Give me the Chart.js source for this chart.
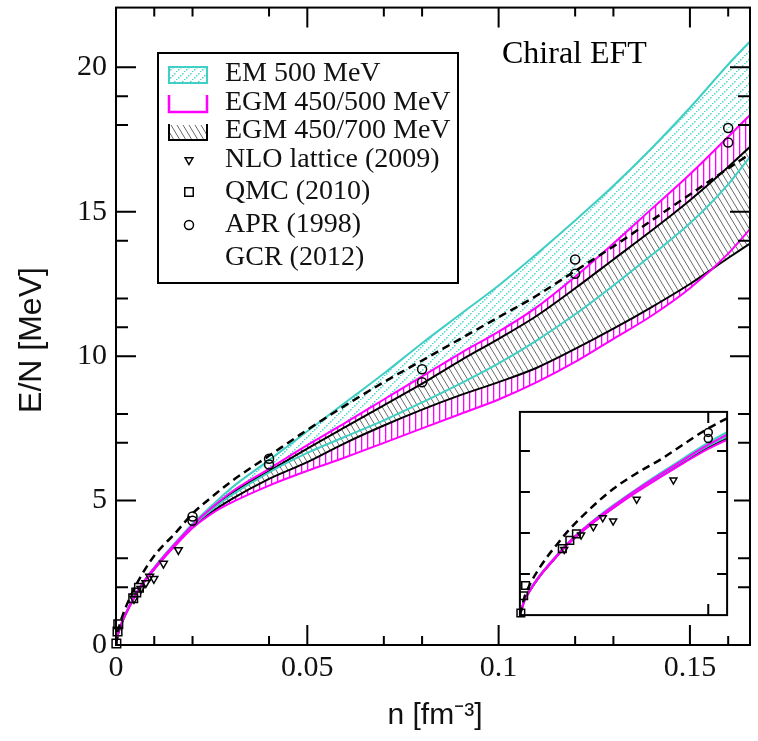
<!DOCTYPE html>
<html>
<head>
<meta charset="utf-8">
<title>Neutron matter E/N</title>
<script src="https://cdn.jsdelivr.net/npm/chart.js@4.4.1/dist/chart.umd.min.js"></script>
<style>
  html, body { margin: 0; padding: 0; background: #fff; }
  #wrap { position: relative; width: 758px; height: 741px; }
  #main { position: absolute; left: 0; top: 0; }
  #inset { position: absolute; left: 513px; top: 405px; }
</style>
</head>
<body>
<div id="wrap">
  <canvas id="main" width="758" height="741"></canvas>
  <canvas id="inset" width="221" height="217"></canvas>
</div>
<script>
// density grid (fm^-3) shared by all band edges
const density = [0, 0.0005, 0.001, 0.002, 0.003, 0.004, 0.005, 0.0075, 0.01, 0.0125, 0.015, 0.0175, 0.02, 0.025, 0.03,
                 0.04, 0.05, 0.06, 0.07, 0.08, 0.09, 0.10, 0.11, 0.12, 0.13, 0.14, 0.15, 0.16, 0.1657];

// E/N (MeV) band edges
const em500Upper  = [0, 0.38, 0.60, 0.94, 1.22, 1.48, 1.74, 2.25, 2.69, 3.09, 3.47, 3.84, 4.20, 4.82, 5.42,
                     6.40, 7.40, 8.40, 9.40, 10.45, 11.45, 12.45, 13.55, 14.70, 15.90, 17.20, 18.60, 20.10, 20.90];
const em500Lower  = [0, 0.37, 0.58, 0.92, 1.20, 1.46, 1.72, 2.22, 2.65, 3.05, 3.42, 3.78, 4.12, 4.68, 5.17,
                     5.98, 6.65, 7.22, 7.78, 8.40, 9.05, 9.75, 10.55, 11.45, 12.45, 13.50, 14.60, 15.95, 16.90];
const egm500Upper = [0, 0.37, 0.58, 0.93, 1.21, 1.47, 1.73, 2.24, 2.67, 3.07, 3.44, 3.80, 4.15, 4.75, 5.28,
                     6.10, 6.92, 7.70, 8.50, 9.30, 10.10, 10.85, 11.70, 12.75, 13.90, 15.10, 16.30, 17.60, 18.35];
const egm500Lower = [0, 0.36, 0.57, 0.91, 1.19, 1.45, 1.70, 2.20, 2.62, 3.01, 3.37, 3.72, 4.05, 4.55, 4.92,
                     5.52, 6.03, 6.50, 7.00, 7.50, 8.00, 8.50, 9.10, 9.80, 10.60, 11.40, 12.35, 13.55, 14.40];
const egm700Upper = [0, 0.37, 0.58, 0.92, 1.20, 1.46, 1.72, 2.23, 2.66, 3.06, 3.43, 3.79, 4.13, 4.72, 5.24,
                     6.02, 6.80, 7.55, 8.30, 9.05, 9.85, 10.60, 11.40, 12.35, 13.35, 14.35, 15.40, 16.55, 17.25];
const egm700Lower = [0, 0.365, 0.575, 0.915, 1.195, 1.455, 1.71, 2.21, 2.63, 3.03, 3.39, 3.75, 4.08, 4.60, 5.03,
                     5.75, 6.33, 7.00, 7.60, 8.15, 8.65, 9.10, 9.60, 10.25, 10.95, 11.70, 12.50, 13.40, 13.90];
const gcr2012     = [0, 0.45, 0.72, 1.12, 1.45, 1.74, 2.02, 2.60, 3.09, 3.47, 3.80, 4.18, 4.55, 5.12, 5.65,
                     6.55, 7.45, 8.30, 9.10, 9.85, 10.60, 11.35, 12.10, 12.95, 13.80, 14.70, 15.60, 16.50, 17.00];

// calculations shown as markers
const nloN = [0.0047, 0.0065, 0.0078, 0.0088, 0.0099, 0.0124, 0.0163];
const nloE = [1.60, 1.95, 2.15, 2.37, 2.29, 2.82, 3.29];
const qmcN = [0.0001, 0.0004, 0.0006, 0.0045, 0.0053, 0.0060];
const qmcE = [0.05, 0.47, 0.72, 1.62, 1.82, 1.98];
const aprN = [0.02, 0.02, 0.04, 0.04, 0.08, 0.08, 0.12, 0.12, 0.16, 0.16];
const aprE = [4.45, 4.30, 6.45, 6.25, 9.55, 9.10, 13.35, 12.85, 17.90, 17.40];

// axes
const xMajorTicks = [0, 0.05, 0.1, 0.15];
const xTickLabels = ['0', '0.05', '0.1', '0.15'];
const xMinorTicks = [0.01, 0.02, 0.04, 0.07, 0.08, 0.12, 0.13, 0.16];
const yMajorTicks = [0, 5, 10, 15, 20];
const yTickLabels = ['0', '5', '10', '15', '20'];
const yMinorTicks = [2, 3, 7, 8, 11, 12, 14, 18, 19];
const insetXTicks = [0.02];
const insetYTicks = [1, 2, 3, 4];

const legendLabels = ['EM 500 MeV', 'EGM 450/500 MeV', 'EGM 450/700 MeV', 'NLO lattice (2009)', 'QMC (2010)', 'APR (1998)', 'GCR (2012)'];

const CYAN = '#3fcfc4';
const MAGENTA = '#ff00ff';
const SERIF = '"Liberation Serif", "Times New Roman", serif';
const SANS = '"Liberation Sans", Arial, sans-serif';

function makePattern(w, h, draw) {
    const c = document.createElement('canvas');
    c.width = w; c.height = h;
    const g = c.getContext('2d');
    g.fillStyle = '#fff';
    g.fillRect(0, 0, w, h);
    draw(g);
    return g.createPattern(c, 'repeat');
}

const patterns = {
    cyan: makePattern(8, 8, g => {
        g.fillStyle = '#4fd3c9';
        [[0, 7], [2, 5], [4, 3], [6, 1]].forEach(([x, y]) => g.fillRect(x, y, 1.5, 1.5));
    }),
    magenta: makePattern(6, 4, g => {
        g.fillStyle = MAGENTA;
        g.fillRect(1, 0, 1.3, 4);
    }),
    hatch: makePattern(6, 10, g => {
        g.strokeStyle = '#6a6a6a';
        g.lineWidth = 1;
        [-6, 0, 6].forEach(o => {
            g.beginPath();
            g.moveTo(o, 0);
            g.lineTo(o + 6, 10);
            g.stroke();
        });
    })
};

const pts = (xs, ys) => xs.map((x, i) => ({ x, y: ys[i] }));

function curve(values, extra) {
    return Object.assign({
        data: pts(density, values),
        borderWidth: 2,
        pointRadius: 0,
        fill: false,
        cubicInterpolationMode: 'monotone'
    }, extra);
}

// band fill: upper edge filled down to the next dataset, no outline
function band(upper, lower, pattern, order) {
    return [
        curve(upper, { borderWidth: 0, borderColor: 'rgba(0,0,0,0)', fill: '+1', backgroundColor: pattern, order }),
        curve(lower, { borderWidth: 0, borderColor: 'rgba(0,0,0,0)', order })
    ];
}

function markers(xs, ys, style, radius, rotation) {
    return {
        data: pts(xs, ys),
        showLine: false,
        pointStyle: style,
        pointRadius: radius,
        pointRotation: rotation || 0,
        pointBorderColor: '#000',
        pointBackgroundColor: 'rgba(255,255,255,0)',
        pointBorderWidth: 1.5,
        clip: false,
        order: -5
    };
}

function buildDatasets(r) {
    return [
        // fills: cyan at the back, hatched band in front
        ...band(egm700Upper, egm700Lower, patterns.hatch, 10),
        ...band(egm500Upper, egm500Lower, patterns.magenta, 11),
        ...band(em500Upper, em500Lower, patterns.cyan, 12),
        // band edges
        curve(egm700Upper, { borderColor: '#000', order: 3 }),
        curve(egm700Lower, { borderColor: '#000', order: 3 }),
        curve(em500Upper, { borderColor: CYAN, order: 2 }),
        curve(em500Lower, { borderColor: CYAN, order: 2 }),
        curve(egm500Upper, { borderColor: MAGENTA, order: 1 }),
        curve(egm500Lower, { borderColor: MAGENTA, order: 1 }),
        curve(gcr2012, { borderColor: '#000', borderWidth: 2.5, borderDash: [8, 5], order: -1 }),
        markers(nloN, nloE, 'triangle', r, 180),
        markers(qmcN, qmcE, 'rect', r * 1.35),
        markers(aprN, aprE, 'circle', r)
    ];
}

function drawTicks(ctx, a, xs, ys, xVals, xLen, yVals, yLen) {
    ctx.beginPath();
    xVals.forEach(v => {
        const px = xs.getPixelForValue(v);
        ctx.moveTo(px, a.bottom); ctx.lineTo(px, a.bottom - xLen);
        ctx.moveTo(px, a.top); ctx.lineTo(px, a.top + xLen);
    });
    yVals.forEach(v => {
        const py = ys.getPixelForValue(v);
        ctx.moveTo(a.left, py); ctx.lineTo(a.left + yLen, py);
        ctx.moveTo(a.right, py); ctx.lineTo(a.right - yLen, py);
    });
    ctx.stroke();
}

function drawLegend(ctx) {
    ctx.save();
    ctx.fillStyle = '#fff';
    ctx.fillRect(158, 53, 300, 230);
    ctx.strokeStyle = '#000';
    ctx.lineWidth = 2;
    ctx.strokeRect(158, 53, 300, 230);

    const rows = [74, 103, 131, 160, 192, 225, 258];
    // band swatches
    ctx.fillStyle = patterns.cyan;
    ctx.fillRect(169, 67, 38, 16);
    ctx.strokeStyle = CYAN;
    ctx.strokeRect(169, 67, 38, 16);

    ctx.strokeStyle = MAGENTA;
    ctx.lineWidth = 2.5;
    ctx.beginPath();
    ctx.moveTo(169, 95); ctx.lineTo(169, 112); ctx.lineTo(207, 112); ctx.lineTo(207, 95);
    ctx.stroke();

    ctx.fillStyle = patterns.hatch;
    ctx.fillRect(169, 125, 38, 15);
    ctx.strokeStyle = '#000';
    ctx.lineWidth = 2;
    ctx.beginPath();
    ctx.moveTo(169, 124); ctx.lineTo(169, 140); ctx.lineTo(207, 140); ctx.lineTo(207, 124);
    ctx.stroke();

    // marker swatches, hollow
    ctx.lineWidth = 1.5;
    ctx.fillStyle = '#fff';
    const opts = { pointStyle: 'triangle', rotation: 180, radius: 4.5, borderWidth: 1.5 };
    Chart.helpers.drawPoint(ctx, opts, 189, rows[3]);
    Chart.helpers.drawPoint(ctx, Object.assign({}, opts, { pointStyle: 'rect', rotation: 0, radius: 6 }), 189, rows[4]);
    Chart.helpers.drawPoint(ctx, Object.assign({}, opts, { pointStyle: 'circle', rotation: 0 }), 189, rows[5]);

    ctx.fillStyle = '#111';
    ctx.font = '28px ' + SERIF;
    ctx.textBaseline = 'middle';
    ctx.textAlign = 'left';
    legendLabels.forEach((t, i) => ctx.fillText(t, 225, rows[i]));
    ctx.restore();
}

const mainDecor = {
    id: 'mainDecor',
    beforeDraw(chart) {
        const { ctx, width, height } = chart;
        ctx.save();
        ctx.fillStyle = '#fff';
        ctx.fillRect(0, 0, width, height);
        ctx.restore();
    },
    afterDraw(chart) {
        const { ctx, chartArea: a, scales: { x, y } } = chart;
        ctx.save();
        ctx.strokeStyle = '#000';
        ctx.lineWidth = 2;
        ctx.strokeRect(a.left, a.top, a.right - a.left, a.bottom - a.top);
        drawTicks(ctx, a, x, y, xMajorTicks.slice(1), 20, yMajorTicks.slice(1), 20);
        drawTicks(ctx, a, x, y, xMinorTicks, 9, yMinorTicks, 12);

        ctx.fillStyle = '#111';
        ctx.textAlign = 'center';
        ctx.textBaseline = 'middle';
        ctx.font = '30px ' + SANS;
        ctx.fillText('n [fm\u207B\u00B3]', 435, 716);
        ctx.save();
        ctx.translate(32, 340);
        ctx.rotate(-Math.PI / 2);
        ctx.font = '32px ' + SANS;
        ctx.fillText('E/N [MeV]', 0, 0);
        ctx.restore();

        ctx.fillStyle = '#000';
        ctx.textAlign = 'left';
        ctx.textBaseline = 'alphabetic';
        ctx.font = '32px ' + SERIF;
        ctx.fillText('Chiral EFT', 502, 63);
        ctx.restore();

        drawLegend(ctx);
    }
};

const noPad = s => { s.paddingLeft = 0; s.paddingRight = 0; s.paddingTop = 0; s.paddingBottom = 0; };

new Chart(document.getElementById('main'), {
    type: 'line',
    data: { datasets: buildDatasets(4.5) },
    options: {
        responsive: false,
        animation: false,
        devicePixelRatio: 1,
        events: [],
        layout: { padding: { left: 0, top: 7, right: 8, bottom: 0 } },
        plugins: { legend: { display: false }, tooltip: { enabled: false } },
        scales: {
            x: {
                type: 'linear', min: 0, max: 0.1657,
                grid: { display: false, drawTicks: false },
                border: { display: false },
                afterBuildTicks: s => { s.ticks = xMajorTicks.map(v => ({ value: v })); },
                afterFit: s => { s.height = 96; noPad(s); },
                ticks: {
                    autoSkip: false, maxRotation: 0, padding: 5, color: '#111',
                    font: { family: SERIF, size: 30 },
                    callback: (v, i) => xTickLabels[i]
                }
            },
            y: {
                type: 'linear', min: 0, max: 22.07,
                grid: { display: false, drawTicks: false },
                border: { display: false },
                afterBuildTicks: s => { s.ticks = yMajorTicks.map(v => ({ value: v })); },
                afterFit: s => { s.width = 116; noPad(s); },
                ticks: {
                    padding: 9, color: '#111',
                    font: { family: SERIF, size: 30 },
                    callback: (v, i) => yTickLabels[i]
                }
            }
        }
    },
    plugins: [mainDecor]
});

// low-density inset
const insetDecor = {
    id: 'insetDecor',
    beforeDraw(chart) {
        const { ctx, width, height } = chart;
        ctx.save();
        ctx.fillStyle = '#fff';
        ctx.fillRect(0, 0, width, height);
        ctx.restore();
    },
    afterDraw(chart) {
        const { ctx, chartArea: a, scales: { x, y } } = chart;
        ctx.save();
        ctx.strokeStyle = '#000';
        ctx.lineWidth = 2;
        ctx.strokeRect(a.left, a.top, a.right - a.left, a.bottom - a.top);
        drawTicks(ctx, a, x, y, insetXTicks, 11, insetYTicks, 10);
        ctx.restore();
    }
};

new Chart(document.getElementById('inset'), {
    type: 'line',
    data: { datasets: buildDatasets(4) },
    options: {
        responsive: false,
        animation: false,
        devicePixelRatio: 1,
        events: [],
        layout: { padding: 2 },
        plugins: { legend: { display: false }, tooltip: { enabled: false } },
        scales: {
            x: { type: 'linear', min: 0, max: 0.022, display: false },
            y: { type: 'linear', min: 0, max: 4.95, display: false }
        }
    },
    plugins: [insetDecor]
});
</script>
</body>
</html>
